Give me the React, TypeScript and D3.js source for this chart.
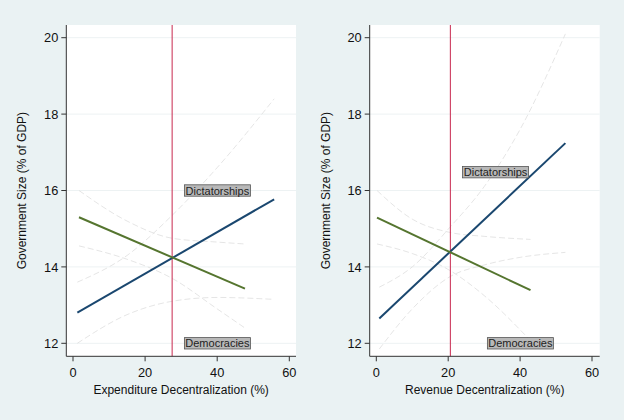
import React from "react";
import * as d3 from "d3";

// ---------- data ----------
const yTicks = [12, 14, 16, 18, 20];
const xTicks = [0, 20, 40, 60];
const yTitle = "Government Size (% of GDP)";

// Left panel: expenditure decentralization
const expTitle = "Expenditure Decentralization (%)";
const expCutoff = 27.5;
const expDictFit: [number, number][] = [[1.2, 12.8], [55.8, 15.77]];
const expDictUpper: [number, number][] = [[1.2, 13.6], [15, 14.3], [27.5, 15.35], [40, 16.6], [55.8, 18.4]];
const expDictLower: [number, number][] = [[1.2, 12.0], [15, 12.75], [27.5, 13.1], [40, 13.2], [55.8, 13.15]];
const expDemoFit: [number, number][] = [[1.66, 15.3], [47.7, 13.43]];
const expDemoUpper: [number, number][] = [[1.66, 16.0], [15, 15.2], [27.5, 14.75], [40, 14.65], [47.7, 14.6]];
const expDemoLower: [number, number][] = [[1.66, 14.55], [15, 14.2], [27.5, 13.7], [40, 12.9], [47.7, 12.4]];
const expLabels: [string, number, number][] = [["Dictatorships", 30.9, 16.0], ["Democracies", 30.9, 12.0]];

// Right panel: revenue decentralization
const revTitle = "Revenue Decentralization (%)";
const revCutoff = 20.6;
const revDictFit: [number, number][] = [[0.83, 12.65], [52.6, 17.24]];
const revDictUpper: [number, number][] = [[0.83, 13.47], [10, 14.0], [20.6, 15.05], [30, 16.1], [40, 17.6], [52.6, 20.1]];
const revDictLower: [number, number][] = [[0.83, 11.85], [10, 12.9], [20.6, 13.75], [30, 14.05], [40, 14.25], [52.6, 14.38]];
const revDemoFit: [number, number][] = [[0.2, 15.29], [42.9, 13.39]];
const revDemoUpper: [number, number][] = [[0.2, 16.0], [10, 15.25], [20.6, 14.9], [30, 14.8], [42.9, 14.72]];
const revDemoLower: [number, number][] = [[0.2, 14.6], [10, 14.35], [20.6, 13.9], [30, 13.25], [42.9, 12.07]];
const revLabels: [string, number, number][] = [["Dictatorships", 24.0, 16.48], ["Democracies", 30.9, 12.0]];

// ---------- styles ----------
const BG = "#eaf2f3";
const NAVY = "#1a476f";
const GREEN = "#55752f";
const RED = "#c8284f";
const CI = "#dedede";
const GRID = "#edf2f3";
const AXIS = "#333";
const FONT = "'Liberation Sans', Arial, Helvetica, sans-serif";

type PanelProps = {
  left: number;
  right: number;
  xRange: [number, number];
  xTitle: string;
  cutoff: number;
  dictFit: [number, number][];
  dictUpper: [number, number][];
  dictLower: [number, number][];
  demoFit: [number, number][];
  demoUpper: [number, number][];
  demoLower: [number, number][];
  labels: [string, number, number][];
};

const TOP = 25;
const BOTTOM = 356.3;
const y = d3.scaleLinear().domain([12, 20]).range([343.3, 37.7]);

function Panel(p: PanelProps) {
  const x = d3.scaleLinear().domain([0, 60]).range(p.xRange);
  const line = d3
    .line<[number, number]>()
    .x((d) => x(d[0]))
    .y((d) => y(d[1]));
  const curve = d3
    .line<[number, number]>()
    .x((d) => x(d[0]))
    .y((d) => y(d[1]))
    .curve(d3.curveMonotoneX);
  const cx = (p.left + p.right) / 2;
  return (
    <g>
      <rect x={p.left} y={TOP} width={p.right - p.left} height={BOTTOM - TOP} fill="#fff" />
      {yTicks.map((t) => (
        <line key={"g" + t} x1={p.left} x2={p.right} y1={y(t)} y2={y(t)} stroke={GRID} strokeWidth={1} />
      ))}
      {[p.dictUpper, p.dictLower, p.demoUpper, p.demoLower].map((d, i) => (
        <path key={"ci" + i} d={curve(d) || ""} fill="none" stroke={CI} strokeWidth={0.8} strokeDasharray="6,3" />
      ))}
      <line x1={x(p.cutoff)} x2={x(p.cutoff)} y1={TOP} y2={BOTTOM} stroke={RED} strokeWidth={1} />
      <path d={line(p.dictFit) || ""} fill="none" stroke={NAVY} strokeWidth={2} />
      <path d={line(p.demoFit) || ""} fill="none" stroke={GREEN} strokeWidth={2} />
      {p.labels.map(([txt, lx, ly]) => (
        <g key={txt}>
          <rect x={x(lx)} y={y(ly) - 5.7} width={66} height={11.4} fill="#b8b8b8" stroke="#555" strokeWidth={0.8} />
          <text x={x(lx) + 33} y={y(ly) + 4} fontSize={11} fontFamily={FONT} fill="#222" textAnchor="middle">
            {txt}
          </text>
        </g>
      ))}
      {/* axes */}
      <line x1={p.left} x2={p.left} y1={TOP} y2={BOTTOM} stroke={AXIS} strokeWidth={1} />
      <line x1={p.left} x2={p.right} y1={BOTTOM} y2={BOTTOM} stroke={AXIS} strokeWidth={1} />
      {yTicks.map((t) => (
        <g key={"yt" + t}>
          <line x1={p.left - 5} x2={p.left} y1={y(t)} y2={y(t)} stroke={AXIS} strokeWidth={1} />
          <text x={p.left - 8} y={y(t) + 4.6} fontSize={12.8} fontFamily={FONT} textAnchor="end" fill="#111">
            {t}
          </text>
        </g>
      ))}
      {xTicks.map((t) => (
        <g key={"xt" + t}>
          <line x1={x(t)} x2={x(t)} y1={BOTTOM} y2={BOTTOM + 5} stroke={AXIS} strokeWidth={1} />
          <text x={x(t)} y={BOTTOM + 20.5} fontSize={12.8} fontFamily={FONT} textAnchor="middle" fill="#111">
            {t}
          </text>
        </g>
      ))}
      <text x={cx} y={393.5} fontSize={12} fontFamily={FONT} textAnchor="middle" fill="#111">
        {p.xTitle}
      </text>
      <text
        transform={`translate(${p.left - 40},${(TOP + BOTTOM) / 2}) rotate(-90)`}
        fontSize={12}
        fontFamily={FONT}
        textAnchor="middle"
        fill="#111"
      >
        {yTitle}
      </text>
    </g>
  );
}

export default function App() {
  return (
    <svg width={624} height={420} style={{ position: "absolute", left: 0, top: 0, display: "block" }}>
      <rect x={0} y={0} width={624} height={420} fill={BG} />
      <Panel
        left={66.3}
        right={296}
        xRange={[73, 289.3]}
        xTitle={expTitle}
        cutoff={expCutoff}
        dictFit={expDictFit}
        dictUpper={expDictUpper}
        dictLower={expDictLower}
        demoFit={expDemoFit}
        demoUpper={expDemoUpper}
        demoLower={expDemoLower}
        labels={expLabels}
      />
      <Panel
        left={369.7}
        right={599.7}
        xRange={[376.3, 592]}
        xTitle={revTitle}
        cutoff={revCutoff}
        dictFit={revDictFit}
        dictUpper={revDictUpper}
        dictLower={revDictLower}
        demoFit={revDemoFit}
        demoUpper={revDemoUpper}
        demoLower={revDemoLower}
        labels={revLabels}
      />
    </svg>
  );
}
